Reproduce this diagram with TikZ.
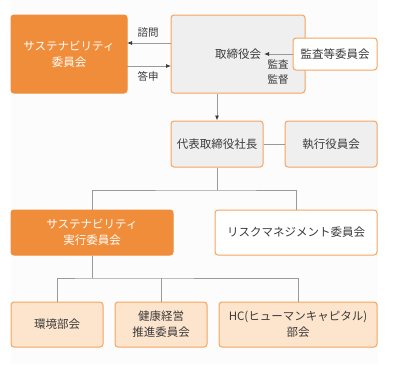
\documentclass[tikz,border=0pt]{standalone}
\usepackage{fontspec}
\setmainfont{Noto Sans CJK JP}
\usetikzlibrary{arrows.meta}
\definecolor{orangeF}{HTML}{F08D3B}
\definecolor{orangeB}{HTML}{F4A560}
\definecolor{grayF}{HTML}{EFEFEF}
\definecolor{peachF}{HTML}{FDE5CD}
\definecolor{lineC}{HTML}{9A9A9A}
\definecolor{txtC}{HTML}{3A3A3A}
\definecolor{bgC}{HTML}{FCFCFC}
\tikzset{
  box/.style={draw=orangeB, line width=1pt, rounded corners=3pt, inner sep=0pt, text=txtC, font=\fontsize{11.5}{16}\selectfont, align=center},
  orbox/.style={box, fill=orangeF, draw=orangeF, text=white},
  grbox/.style={box, fill=grayF},
  whbox/.style={box, fill=white},
  pcbox/.style={box, fill=peachF},
  conn/.style={draw=lineC, line width=0.8pt},
  arr/.style={conn, arrows={-{Latex[length=5pt,width=4pt,color=txtC]}}},
  lbl/.style={text=txtC, font=\fontsize{10.5}{15}\selectfont, inner sep=0pt, align=center}
}
\begin{document}
\begin{tikzpicture}[x=1pt,y=-1pt]
\useasboundingbox (0,0) rectangle (403,364);
\fill[bgC] (11,0) rectangle (378,364);
% boxes
\node[orbox, minimum width=116pt, minimum height=78pt] (sc) at (69,54) {サステナビリティ\\委員会};
\node[grbox, minimum width=134pt, minimum height=78pt] (bd) at (238,54) {};
\node[lbl, font=\fontsize{11.5}{14}\selectfont] (bdt) at (238,54) {取締役会};
\node[whbox, minimum width=84pt, minimum height=32pt] (ac) at (335,54) {監査等委員会};
\node[grbox, minimum width=92pt, minimum height=46pt] (ceo) at (217,144) {代表取締役社長};
\node[grbox, minimum width=92pt, minimum height=46pt] (ex) at (331,144) {執行役員会};
\node[orbox, minimum width=162pt, minimum height=45pt] (se) at (92,232.5) {サステナビリティ\\実行委員会};
\node[whbox, minimum width=162pt, minimum height=45pt] (rm) at (296,232.5) {リスクマネジメント委員会};
\node[pcbox, minimum width=92pt, minimum height=45pt] (env) at (57,324.5) {環境部会};
\node[pcbox, minimum width=92pt, minimum height=45pt] (hl) at (161,324.5) {健康経営\\推進委員会};
\node[pcbox, minimum width=158pt, minimum height=45pt] (hc) at (298,324.5) {HC(ヒューマンキャピタル)\\部会};
% arrows between sc and bd
\coordinate (q1) at (171,43);
\coordinate (q2) at (127,43);
\coordinate (r1) at (127,66);
\coordinate (r2) at (171,66);
\draw[arr] (q1) -- (q2);
\draw[arr] (r1) -- (r2);
\node[lbl] (l1) at (148,33) {諮問};
\node[lbl] (l2) at (148,76) {答申};
% audit
\coordinate (t1) at (293,54);
\coordinate (t2) at (264,54);
\draw[arr] (t1) -- (t2);
\node[lbl] (l3) at (278,72) {監査\\監督};
% board to ceo
\draw[arr] (bd.south -| ceo.north) -- (ceo.north);
\draw[conn] (ceo.east) -- (ex.west);
% tree
\coordinate (j1) at (217,190);
\draw[conn] (ceo.south) -- (j1);
\draw[conn] (se.north) |- (j1) -| (rm.north);
\coordinate (j2) at (92,278);
\draw[conn] (se.south) -- (j2);
\draw[conn] (env.north) |- (j2) -| (hc.north);
\draw[conn] (hl.north) -- (hl.north |- j2);
\end{tikzpicture}
\end{document}
